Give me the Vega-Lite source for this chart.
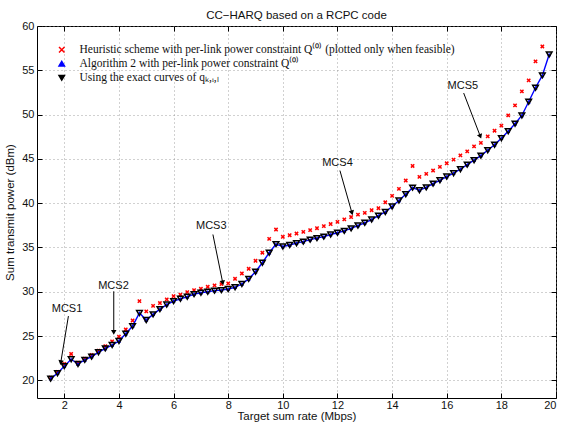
{
  "$schema": "https://vega.github.io/schema/vega-lite/v6.json",
  "width": 519,
  "height": 372,
  "autosize": "none",
  "padding": {"left": 37, "top": 26, "right": 5, "bottom": 26},
  "background": "white",
  "title": {"text": "CC−HARQ based on a RCPC code", "font": "Liberation Sans", "fontSize": 11.5, "fontWeight": "normal", "color": "#111111", "offset": -1},
  "config": {
    "view": {"stroke": "black", "strokeWidth": 1},
    "axis": {
      "domain": false,
      "labelFont": "Liberation Sans",
      "labelFontSize": 11,
      "labelColor": "#111111",
      "titleFont": "Liberation Sans",
      "titleFontSize": 11.5,
      "titleFontWeight": "normal",
      "titleColor": "#111111",
      "tickColor": "black",
      "tickSize": -5,
      "gridColor": "#8a8a8a",
      "gridDash": [1, 3],
      "gridWidth": 0.8
    }
  },
  "resolve": {"axis": {"x": "independent", "y": "independent"}},
  "datasets": {
    "curves": [
      {"r": 1.5, "h": 20.3, "a": 20.19, "e": 20.19},
      {"r": 1.75, "h": 20.95, "a": 20.79, "e": 20.79},
      {"r": 2.0, "h": 21.85, "a": 21.6, "e": 21.6},
      {"r": 2.25, "h": 22.97, "a": 22.37, "e": 22.37},
      {"r": 2.5, "h": 22.0, "a": 21.84, "e": 21.84},
      {"r": 2.75, "h": 22.45, "a": 22.3, "e": 22.3},
      {"r": 3.0, "h": 22.85, "a": 22.67, "e": 22.67},
      {"r": 3.25, "h": 23.35, "a": 23.16, "e": 23.16},
      {"r": 3.5, "h": 23.85, "a": 23.6, "e": 23.6},
      {"r": 3.75, "h": 24.4, "a": 23.98, "e": 23.98},
      {"r": 4.0, "h": 24.93, "a": 24.43, "e": 24.43},
      {"r": 4.25, "h": 25.74, "a": 25.26, "e": 25.26},
      {"r": 4.5, "h": 26.75, "a": 26.12, "e": 26.12},
      {"r": 4.75, "h": 28.94, "a": 27.6, "e": 27.6},
      {"r": 5.0, "h": 27.78, "a": 26.8, "e": 26.8},
      {"r": 5.25, "h": 28.4, "a": 27.44, "e": 27.44},
      {"r": 5.5, "h": 28.72, "a": 28.04, "e": 28.04},
      {"r": 5.75, "h": 29.13, "a": 28.55, "e": 28.55},
      {"r": 6.0, "h": 29.5, "a": 28.94, "e": 28.94},
      {"r": 6.25, "h": 29.66, "a": 29.2, "e": 29.2},
      {"r": 6.5, "h": 29.95, "a": 29.43, "e": 29.43},
      {"r": 6.75, "h": 30.18, "a": 29.73, "e": 29.73},
      {"r": 7.0, "h": 30.33, "a": 29.88, "e": 29.88},
      {"r": 7.25, "h": 30.56, "a": 30.0, "e": 30.0},
      {"r": 7.5, "h": 30.71, "a": 30.12, "e": 30.12},
      {"r": 7.75, "h": 30.86, "a": 30.18, "e": 30.18},
      {"r": 8.0, "h": 30.94, "a": 30.3, "e": 30.3},
      {"r": 8.25, "h": 31.46, "a": 30.5, "e": 30.5},
      {"r": 8.5, "h": 32.06, "a": 30.87, "e": 30.87},
      {"r": 8.75, "h": 32.59, "a": 31.45, "e": 31.45},
      {"r": 9.0, "h": 33.49, "a": 32.26, "e": 32.26},
      {"r": 9.25, "h": 34.4, "a": 33.27, "e": 33.27},
      {"r": 9.5, "h": 35.97, "a": 34.4, "e": 34.4},
      {"r": 9.75, "h": 37.02, "a": 35.37, "e": 35.37},
      {"r": 10.0, "h": 36.2, "a": 35.1, "e": 35.1},
      {"r": 10.25, "h": 36.38, "a": 35.28, "e": 35.28},
      {"r": 10.5, "h": 36.57, "a": 35.48, "e": 35.48},
      {"r": 10.75, "h": 36.76, "a": 35.65, "e": 35.65},
      {"r": 11.0, "h": 36.95, "a": 35.88, "e": 35.88},
      {"r": 11.25, "h": 37.17, "a": 36.05, "e": 36.05},
      {"r": 11.5, "h": 37.4, "a": 36.22, "e": 36.22},
      {"r": 11.75, "h": 37.64, "a": 36.46, "e": 36.46},
      {"r": 12.0, "h": 37.89, "a": 36.66, "e": 36.66},
      {"r": 12.25, "h": 38.17, "a": 36.87, "e": 36.87},
      {"r": 12.5, "h": 38.43, "a": 37.15, "e": 37.15},
      {"r": 12.75, "h": 38.7, "a": 37.47, "e": 37.47},
      {"r": 13.0, "h": 38.9, "a": 37.78, "e": 37.78},
      {"r": 13.25, "h": 39.2, "a": 38.15, "e": 38.15},
      {"r": 13.5, "h": 39.43, "a": 38.58, "e": 38.58},
      {"r": 13.75, "h": 40.1, "a": 39.0, "e": 39.0},
      {"r": 14.0, "h": 40.82, "a": 39.62, "e": 39.62},
      {"r": 14.25, "h": 41.61, "a": 40.3, "e": 40.3},
      {"r": 14.5, "h": 42.55, "a": 41.0, "e": 41.0},
      {"r": 14.75, "h": 44.2, "a": 41.75, "e": 41.75},
      {"r": 15.0, "h": 42.96, "a": 41.45, "e": 41.45},
      {"r": 15.25, "h": 43.3, "a": 41.78, "e": 41.78},
      {"r": 15.5, "h": 43.68, "a": 42.2, "e": 42.2},
      {"r": 15.75, "h": 44.09, "a": 42.58, "e": 42.58},
      {"r": 16.0, "h": 44.5, "a": 43.0, "e": 43.0},
      {"r": 16.25, "h": 44.92, "a": 43.38, "e": 43.38},
      {"r": 16.5, "h": 45.4, "a": 43.83, "e": 43.83},
      {"r": 16.75, "h": 45.85, "a": 44.35, "e": 44.35},
      {"r": 17.0, "h": 46.41, "a": 44.85, "e": 44.85},
      {"r": 17.25, "h": 46.8, "a": 45.37, "e": 45.37},
      {"r": 17.5, "h": 47.54, "a": 45.98, "e": 45.98},
      {"r": 17.75, "h": 48.18, "a": 46.6, "e": 46.6},
      {"r": 18.0, "h": 48.75, "a": 47.33, "e": 47.33},
      {"r": 18.25, "h": 49.91, "a": 48.12, "e": 48.12},
      {"r": 18.5, "h": 51.04, "a": 48.96, "e": 48.96},
      {"r": 18.75, "h": 52.62, "a": 49.9, "e": 49.9},
      {"r": 19.0, "h": 53.86, "a": 51.45, "e": 51.45},
      {"r": 19.25, "h": 56.0, "a": 53.03, "e": 53.03},
      {"r": 19.5, "h": 57.69, "a": 54.42, "e": 54.42},
      {"r": 19.75, "h": null, "a": 56.79, "e": 56.79}
    ],
    "ann": [
      {"label": "MCS1", "tx": 2.1, "ty": 28.1, "x1": 2.15, "y1": 27.25, "x2": 1.87, "y2": 22.0},
      {"label": "MCS2", "tx": 3.8, "ty": 30.7, "x1": 3.81, "y1": 30.05, "x2": 3.81, "y2": 25.4},
      {"label": "MCS3", "tx": 7.38, "ty": 37.47, "x1": 7.44, "y1": 36.46, "x2": 7.8, "y2": 31.0},
      {"label": "MCS4", "tx": 12.0, "ty": 44.58, "x1": 12.09, "y1": 43.68, "x2": 12.53, "y2": 38.9},
      {"label": "MCS5", "tx": 16.59, "ty": 53.26, "x1": 16.62, "y1": 52.43, "x2": 17.23, "y2": 47.54}
    ]
  },
  "layer": [
    {
      "data": {"name": "curves"},
      "transform": [{"fold": ["h", "a", "e"], "as": ["s", "v"]}, {"filter": "datum.s == 'h' && datum.v != null"}],
      "mark": {"type": "point", "filled": false, "size": 11, "strokeWidth": 1.5, "opacity": 1},
      "encoding": {
        "x": {"field": "r", "type": "quantitative", "scale": {"domain": [1, 20], "nice": false, "zero": false},
              "axis": {"values": [2, 4, 6, 8, 10, 12, 14, 16, 18, 20], "title": "Target sum rate (Mbps)", "labelPadding": 6, "titlePadding": 0, "grid": true}},
        "y": {"field": "v", "type": "quantitative", "scale": {"domain": [18, 60], "nice": false, "zero": false},
              "axis": {"values": [20, 25, 30, 35, 40, 45, 50, 55, 60], "title": "Sum transmit power (dBm)", "labelPadding": 8, "titlePadding": 6, "grid": true}},
        "color": {"field": "s", "type": "nominal", "scale": {"domain": ["h", "a", "e"], "range": ["#ff0000", "#0000ff", "#000000"]},
                  "legend": {"title": null, "orient": "none", "legendX": 19, "legendY": 18, "padding": 0, "rowPadding": 1, "labelFont": "Liberation Serif", "labelFontSize": 11.5, "labelColor": "#111111", "labelLimit": 600, "symbolSize": 30, "symbolStrokeWidth": 1.5, "labelOffset": 12,
                             "labelExpr": "datum.label == 'h' ? 'Heuristic scheme with per-link power constraint Q⁽⁰⁾ (plotted only when feasible)' : datum.label == 'a' ? 'Algorithm 2 with per-link power constraint Q⁽⁰⁾' : 'Using the exact curves of qₖ,ᵢ,ₗ'"}},
        "shape": {"field": "s", "type": "nominal", "scale": {"domain": ["h", "a", "e"], "range": ["M-1,-1L1,1M1,-1L-1,1", "triangle-up", "triangle-down"]},
                  "legend": {"title": null, "orient": "none", "legendX": 19, "legendY": 18, "padding": 0, "rowPadding": 1, "labelFont": "Liberation Serif", "labelFontSize": 11.5, "labelColor": "#111111", "labelLimit": 600, "symbolSize": 30, "symbolStrokeWidth": 1.5, "labelOffset": 12,
                             "labelExpr": "datum.label == 'h' ? 'Heuristic scheme with per-link power constraint Q⁽⁰⁾ (plotted only when feasible)' : datum.label == 'a' ? 'Algorithm 2 with per-link power constraint Q⁽⁰⁾' : 'Using the exact curves of qₖ,ᵢ,ₗ'"}}
      }
    },
    {
      "data": {"name": "curves"},
      "mark": {"type": "line", "color": "#0000ff", "strokeWidth": 1.4},
      "encoding": {
        "x": {"field": "r", "type": "quantitative", "axis": {"orient": "top", "values": [2, 4, 6, 8, 10, 12, 14, 16, 18, 20], "labels": false, "title": null, "grid": false}},
        "y": {"field": "a", "type": "quantitative", "axis": {"orient": "right", "values": [20, 25, 30, 35, 40, 45, 50, 55, 60], "labels": false, "title": null, "grid": false}}
      }
    },
    {
      "data": {"name": "curves"},
      "transform": [{"fold": ["h", "a", "e"], "as": ["s", "v"]}, {"filter": "datum.s == 'a'"}],
      "mark": {"type": "point", "filled": true, "size": 16, "opacity": 1},
      "encoding": {
        "x": {"field": "r", "type": "quantitative", "axis": null},
        "y": {"field": "v", "type": "quantitative", "axis": null},
        "color": {"field": "s", "type": "nominal"},
        "shape": {"field": "s", "type": "nominal"}
      }
    },
    {
      "data": {"name": "curves"},
      "transform": [{"fold": ["h", "a", "e"], "as": ["s", "v"]}, {"filter": "datum.s == 'e'"}],
      "mark": {"type": "point", "filled": false, "size": 32, "strokeWidth": 1.5, "opacity": 1},
      "encoding": {
        "x": {"field": "r", "type": "quantitative", "axis": null},
        "y": {"field": "v", "type": "quantitative", "axis": null},
        "color": {"field": "s", "type": "nominal"},
        "shape": {"field": "s", "type": "nominal"}
      }
    },
    {
      "data": {"name": "ann"},
      "mark": {"type": "rule", "color": "black", "strokeWidth": 1},
      "encoding": {
        "x": {"field": "x1", "type": "quantitative", "axis": null},
        "y": {"field": "y1", "type": "quantitative", "axis": null},
        "x2": {"field": "x2"},
        "y2": {"field": "y2"}
      }
    },
    {
      "data": {"name": "ann"},
      "mark": {"type": "text", "font": "Liberation Sans", "fontSize": 11, "color": "#111111"},
      "encoding": {
        "x": {"field": "tx", "type": "quantitative", "axis": null},
        "y": {"field": "ty", "type": "quantitative", "axis": null},
        "text": {"field": "label"}
      }
    },
    {
      "data": {"name": "ann"},
      "transform": [{"filter": "datum.label == 'MCS1'"}],
      "mark": {"type": "point", "shape": "triangle-down", "filled": true, "color": "black", "size": 30, "angle": 9, "opacity": 1},
      "encoding": {"x": {"field": "x2", "type": "quantitative", "axis": null}, "y": {"field": "y2", "type": "quantitative", "axis": null}}
    },
    {
      "data": {"name": "ann"},
      "transform": [{"filter": "datum.label == 'MCS2'"}],
      "mark": {"type": "point", "shape": "triangle-down", "filled": true, "color": "black", "size": 30, "angle": 0, "opacity": 1},
      "encoding": {"x": {"field": "x2", "type": "quantitative", "axis": null}, "y": {"field": "y2", "type": "quantitative", "axis": null}}
    },
    {
      "data": {"name": "ann"},
      "transform": [{"filter": "datum.label == 'MCS3'"}],
      "mark": {"type": "point", "shape": "triangle-down", "filled": true, "color": "black", "size": 30, "angle": -12, "opacity": 1},
      "encoding": {"x": {"field": "x2", "type": "quantitative", "axis": null}, "y": {"field": "y2", "type": "quantitative", "axis": null}}
    },
    {
      "data": {"name": "ann"},
      "transform": [{"filter": "datum.label == 'MCS4'"}],
      "mark": {"type": "point", "shape": "triangle-down", "filled": true, "color": "black", "size": 30, "angle": -16, "opacity": 1},
      "encoding": {"x": {"field": "x2", "type": "quantitative", "axis": null}, "y": {"field": "y2", "type": "quantitative", "axis": null}}
    },
    {
      "data": {"name": "ann"},
      "transform": [{"filter": "datum.label == 'MCS5'"}],
      "mark": {"type": "point", "shape": "triangle-down", "filled": true, "color": "black", "size": 30, "angle": -21, "opacity": 1},
      "encoding": {"x": {"field": "x2", "type": "quantitative", "axis": null}, "y": {"field": "y2", "type": "quantitative", "axis": null}}
    }
  ]
}
